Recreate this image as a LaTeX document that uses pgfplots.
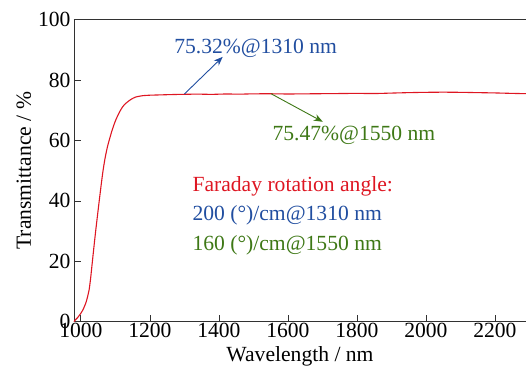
\documentclass[border=0pt]{standalone}
\usepackage{fontspec}
\setmainfont{Liberation Serif}
\usepackage{pgfplots}
\pgfplotsset{compat=1.18}
\usetikzlibrary{arrows.meta,calc}
\definecolor{cred}{RGB}{222,22,34}
\definecolor{cblue}{RGB}{33,78,160}
\definecolor{cgreen}{RGB}{62,120,22}
\definecolor{cspine}{RGB}{50,50,50}
\newcommand{\fs}{\fontsize{21.6bp}{25bp}\selectfont}
\begin{document}
\begin{tikzpicture}
\begin{axis}[
  scale only axis,
  width=452bp, height=302bp,
  xmin=980, xmax=2290, ymin=0, ymax=100,
  axis lines=left,
  axis line style={-, cspine, line width=0.8bp},
  every tick/.style={cspine, line width=0.8bp},
  tick align=inside,
  major tick length=7bp,
  xtick={1000,1200,...,2200},
  ytick={0,20,...,100},
  /pgf/number format/assume math mode=true,
  /pgf/number format/1000 sep={},
  tick label style={font=\fs},
  label style={font=\fs},
  xticklabel style={yshift=2bp},
  xlabel={Wavelength / nm},
  xlabel style={yshift=-2bp},
  ylabel={Transmittance / \%},
  clip=false,
]
\addplot[cred, line width=1.1bp, smooth, tension=0.4] coordinates {
(980,0) (983,0.5) (990,1.3) (1000,2.8) (1007,4.2) (1014,6.1) (1019,8.1) (1024,10.7) (1028,14.2)
(1033,19.6) (1038,25) (1043,30.2) (1048,35.1) (1053,39.9) (1058,44.6) (1062,48.2)
(1066,51.4) (1070,54.1) (1074,56.4) (1078,58.4) (1084,60.9) (1091,63.6) (1100,66.5) (1110,69)
(1120,71) (1130,72.3) (1145,73.6) (1159,74.4) (1180,74.85) (1200,75.0) (1230,75.1) (1260,75.2)
(1300,75.3) (1340,75.35) (1380,75.28) (1420,75.4) (1460,75.35) (1500,75.45)
(1550,75.47) (1600,75.4) (1650,75.45) (1700,75.5) (1750,75.55) (1800,75.6)
(1850,75.55) (1900,75.7) (1950,75.85) (2000,75.95) (2050,76.0) (2100,75.95)
(2150,75.85) (2200,75.75) (2250,75.6) (2290,75.5)
};
\draw[cspine, line width=0.8bp] (rel axis cs:0,1) -- (rel axis cs:1,1);
\coordinate (sw) at (rel axis cs:0,0);
\draw[cblue, line width=0.9bp, -{Stealth[length=9bp,width=7bp]}] (axis cs:1300,75.4) -- (axis cs:1411,87.7);
\draw[cgreen, line width=0.9bp, -{Stealth[length=9bp,width=7bp]}] (axis cs:1551,75.5) -- (axis cs:1701,66.2);
\node[cblue, anchor=west, inner sep=0pt, font=\fs] at (axis cs:1270,90.5) {75.32\%@1310 nm};
\node[cgreen, anchor=west, inner sep=0pt, font=\fs] at (axis cs:1555,61.8) {75.47\%@1550 nm};
\node[cred, anchor=west, inner sep=0pt, font=\fs] at (axis cs:1323,44.7) {Faraday rotation angle:};
\node[cblue, anchor=west, inner sep=0pt, font=\fs] at (axis cs:1323,35.3) {200 (°)/cm@1310 nm};
\node[cgreen, anchor=west, inner sep=0pt, font=\fs] at (axis cs:1323,25.4) {160 (°)/cm@1550 nm};
\end{axis}
\pgfresetboundingbox
\path ($(sw)+(-74bp,-48.3bp)$) rectangle ($(sw)+(452bp,321.7bp)$);
\end{tikzpicture}
\end{document}
